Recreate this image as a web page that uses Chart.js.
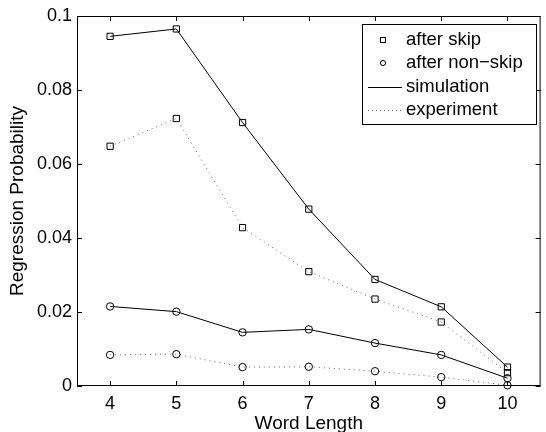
<!DOCTYPE html>
<html>
<head>
<meta charset="utf-8">
<script src="https://cdn.jsdelivr.net/npm/chart.js@4"></script>
<style>
  html, body { margin: 0; padding: 0; background: #fff; }
  #wrap { width: 546px; height: 432px; }
</style>
</head>
<body>
<div id="wrap"><canvas id="myChart"></canvas></div>
<script>
const wordLength = [4, 5, 6, 7, 8, 9, 10];
const skipSimulation = [0.0945, 0.0965, 0.0712, 0.0478, 0.0288, 0.0214, 0.0051];
const skipExperiment = [0.0648, 0.0723, 0.0428, 0.0309, 0.0235, 0.0173, 0.0036];
const nonSkipSimulation = [0.0215, 0.0201, 0.0145, 0.0153, 0.0116, 0.0084, 0.0021];
const nonSkipExperiment = [0.0084, 0.0086, 0.0051, 0.0052, 0.0040, 0.0024, 0.0002];
const yTicks = [0, 0.02, 0.04, 0.06, 0.08, 0.1];
const legendItems = ['after skip', 'after non\u2212skip', 'simulation', 'experiment'];

const FONT = "'Liberation Sans', Arial, Helvetica, sans-serif";

function toPoints(values) {
  return wordLength.map((x, i) => ({ x: x, y: values[i] }));
}

function series(values, marker, dotted) {
  return {
    data: toPoints(values),
    borderColor: dotted ? '#666' : '#000',
    borderWidth: 1,
    borderDash: dotted ? [1, 4] : [],
    pointStyle: marker,
    pointRadius: marker === 'rect' ? 4.4 : 3.7,
    pointBorderColor: '#000',
    pointBackgroundColor: 'rgba(0,0,0,0)',
    pointBorderWidth: 1,
    tension: 0,
    clip: false
  };
}

// box round the plot, inward ticks on all four sides, legend inside
const matlabFrame = {
  id: 'matlabFrame',
  afterDraw(chart) {
    const { ctx, chartArea: a, scales } = chart;
    ctx.save();
    ctx.strokeStyle = '#000';
    ctx.lineWidth = 1;
    ctx.strokeRect(a.left + 0.5, a.top + 0.5, a.right - a.left - 1, a.bottom - a.top - 1);
    ctx.beginPath();
    wordLength.forEach(v => {
      const px = Math.round(scales.x.getPixelForValue(v)) + 0.5;
      ctx.moveTo(px, a.bottom); ctx.lineTo(px, a.bottom - 5);
      ctx.moveTo(px, a.top); ctx.lineTo(px, a.top + 5);
    });
    yTicks.forEach(v => {
      const py = Math.round(scales.y.getPixelForValue(v)) + 0.5;
      ctx.moveTo(a.left, py); ctx.lineTo(a.left + 5, py);
      ctx.moveTo(a.right, py); ctx.lineTo(a.right - 5, py);
    });
    ctx.stroke();

    // legend
    const bx = 362, by = 24, bw = 174, bh = 100;
    ctx.fillStyle = '#fff';
    ctx.fillRect(bx, by, bw, bh);
    ctx.strokeRect(bx + 0.5, by + 0.5, bw, bh);
    ctx.font = '18.5px ' + FONT;
    ctx.fillStyle = '#000';
    ctx.textBaseline = 'middle';
    const rows = [40, 63, 87, 110];
    const tx = 406, mx = 383;
    legendItems.forEach((t, i) => ctx.fillText(t, tx, rows[i]));
    ctx.lineWidth = 1;
    ctx.strokeRect(mx - 2.5, rows[0] - 2.5, 5, 5);
    ctx.beginPath();
    ctx.arc(mx, rows[1], 2.6, 0, Math.PI * 2);
    ctx.stroke();
    ctx.beginPath();
    ctx.moveTo(368, rows[2] + 0.5); ctx.lineTo(402, rows[2] + 0.5);
    ctx.stroke();
    ctx.strokeStyle = '#777';
    ctx.setLineDash([1, 3]);
    ctx.beginPath();
    ctx.moveTo(368, rows[3] + 0.5); ctx.lineTo(402, rows[3] + 0.5);
    ctx.stroke();
    ctx.restore();
  }
};

const options = {
  type: 'line',
  data: {
    datasets: [
      series(skipSimulation, 'rect', false),
      series(skipExperiment, 'rect', true),
      series(nonSkipSimulation, 'circle', false),
      series(nonSkipExperiment, 'circle', true)
    ]
  },
  options: {
    responsive: true,
    maintainAspectRatio: false,
    animation: false,
    layout: { padding: { top: 16, right: 1, left: 0, bottom: -3 } },
    plugins: {
      legend: { display: false },
      tooltip: { enabled: false }
    },
    scales: {
      x: {
        type: 'linear',
        min: 3.5,
        max: 10.5,
        afterBuildTicks: s => { s.ticks = wordLength.map(v => ({ value: v })); },
        afterFit: s => { s.height = 49; },
        grid: { display: false, drawTicks: false },
        border: { display: false },
        ticks: {
          color: '#000',
          padding: 7,
          font: { family: FONT, size: 18 },
          maxRotation: 0
        },
        title: {
          display: true,
          text: 'Word Length',
          color: '#000',
          padding: { top: 0, bottom: 0 },
          font: { family: FONT, size: 19 }
        }
      },
      y: {
        type: 'linear',
        min: 0,
        max: 0.1,
        afterBuildTicks: s => { s.ticks = yTicks.map(v => ({ value: v })); },
        afterFit: s => { s.width = 77; },
        grid: { display: false, drawTicks: false },
        border: { display: false },
        ticks: {
          color: '#000',
          padding: 5,
          font: { family: FONT, size: 18 },
          callback: v => String(Number(v.toFixed(2)))
        },
        title: {
          display: true,
          text: 'Regression Probability',
          color: '#000',
          padding: { top: 6, bottom: 0 },
          font: { family: FONT, size: 19 }
        }
      }
    }
  },
  plugins: [matlabFrame]
};

const ctx = document.getElementById('myChart').getContext('2d');
new Chart(ctx, options);
</script>
</body>
</html>
